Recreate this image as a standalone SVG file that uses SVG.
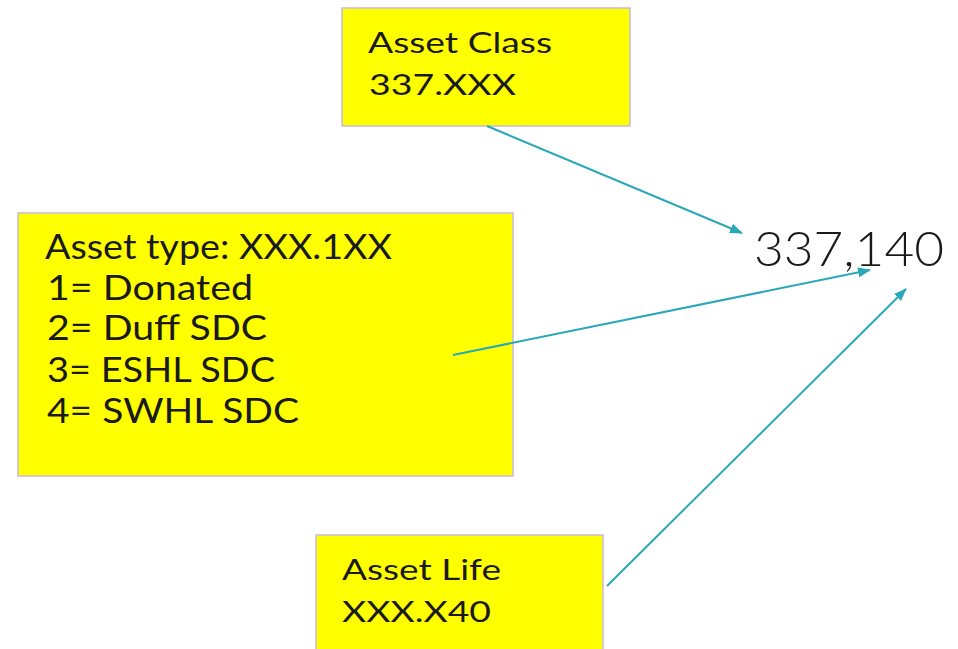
<svg xmlns="http://www.w3.org/2000/svg" width="958" height="649" viewBox="0 0 958 649">
<defs>
<style>
.box{fill:#ffff00;stroke:#c9b9d9;stroke-width:1.5}
.t{font-family:"Lato","Liberation Sans",sans-serif;fill:#1a1a1a}
.s{font-size:29px}
.m{font-size:35px}
.c{stroke:#2aa8b8;stroke-width:2;fill:none;marker-end:url(#ah)}
</style>
<marker id="ah" markerWidth="13" markerHeight="10" refX="12" refY="5" orient="auto" markerUnits="userSpaceOnUse"><path d="M0,0 L13,5 L0,10 Z" fill="#2aa8b8"/></marker>
</defs>
<rect width="958" height="649" fill="#ffffff"/>
<g id="asset-class">
<rect class="box" x="342" y="8" width="288" height="118"/>
<text class="t s" x="368" y="53" textLength="184" lengthAdjust="spacingAndGlyphs">Asset Class</text>
<text class="t s" x="369" y="95" textLength="147" lengthAdjust="spacingAndGlyphs">337.XXX</text>
</g>
<g id="asset-type">
<rect class="box" x="18" y="213" width="495" height="263"/>
<text class="t m" x="45" y="259" textLength="347" lengthAdjust="spacingAndGlyphs">Asset type: XXX.1XX</text>
<text class="t m" x="47" y="300" textLength="206" lengthAdjust="spacingAndGlyphs">1= Donated</text>
<text class="t m" x="47" y="340" textLength="220" lengthAdjust="spacingAndGlyphs">2= Duff SDC</text>
<text class="t m" x="47" y="382" textLength="228" lengthAdjust="spacingAndGlyphs">3= ESHL SDC</text>
<text class="t m" x="47" y="423" textLength="252" lengthAdjust="spacingAndGlyphs">4= SWHL SDC</text>
</g>
<g id="asset-life">
<rect class="box" x="316" y="535" width="287" height="120"/>
<text class="t s" x="342" y="580" textLength="159" lengthAdjust="spacingAndGlyphs">Asset Life</text>
<text class="t s" x="342" y="622" textLength="149" lengthAdjust="spacingAndGlyphs">XXX.X40</text>
</g>
<g id="result">
<text class="t" x="754" y="266" style="font-size:48px;font-weight:300" textLength="190" lengthAdjust="spacingAndGlyphs">337,140</text>
</g>
<g id="connectors">
<line class="c" x1="487" y1="126" x2="742" y2="233"/>
<line class="c" x1="453" y1="355" x2="870" y2="270"/>
<line class="c" x1="607" y1="586" x2="906" y2="289"/>
</g>
</svg>
